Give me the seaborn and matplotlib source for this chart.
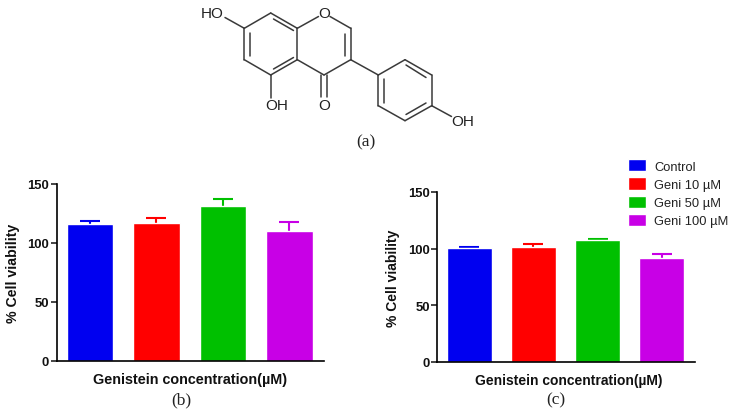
#!/usr/bin/env python3
import matplotlib
matplotlib.use("Agg")
import matplotlib.pyplot as plt
import pandas as pd
import seaborn as sns

W, H = 730, 414

GROUPS = ["Control", "Geni 10 µM", "Geni 50 µM", "Geni 100 µM"]
COLORS = ["#0000f0", "#ff0000", "#00c000", "#c800e6"]

VIABILITY_B = [116, 116.5, 131, 110]
ERR_B = [2.6, 4.7, 5.7, 7.5]
VIABILITY_C = [100.8, 101, 107.3, 91.4]
ERR_C = [0.9, 3.3, 1.4, 3.5]

YTICKS = [0, 50, 100, 150]
XLABEL = "Genistein concentration(µM)"
YLABEL = "% Cell viability"

# structure of genistein for panel (a), atom positions in pixels of the page
ATOMS = dict(
    c7=(244.3, 29.3), c8=(270.7, 14), c8a=(297.3, 29.3), c2=(350.7, 29.3),
    c3=(350.7, 60.7), c4=(324, 76), c4a=(297.3, 60.7), c5=(270.7, 76),
    c6=(244.3, 60.7), c1p=(378.3, 76), c2p=(405, 60.7), c3p=(431.7, 76),
    c4p=(431.7, 106.7), c5p=(405, 121.7), c6p=(378.3, 106.7),
)
BONDS = [
    ("c7", "c8"), ("c8", "c8a"), ("c8a", "c4a"), ("c4a", "c5"), ("c5", "c6"),
    ("c6", "c7"), ("c2", "c3"), ("c3", "c4"), ("c4", "c4a"), ("c3", "c1p"),
    ("c1p", "c2p"), ("c2p", "c3p"), ("c3p", "c4p"), ("c4p", "c5p"),
    ("c5p", "c6p"), ("c6p", "c1p"),
]
EXTRA_LINES = [
    # bonds to the O/OH labels
    ((297.3, 29.3), (318.5, 17.5)), ((330, 17.5), (350.7, 29.3)),
    ((244.3, 29.3), (225, 18.5)), ((270.7, 76), (270.7, 98.5)),
    ((431.7, 106.7), (451.5, 117.5)),
    ((321, 76), (321, 98)), ((326.8, 76), (326.8, 98)),
    # inner lines of double bonds
    ((250, 33.5), (250, 56.5)), ((273.5, 20), (293.5, 31.5)),
    ((293.5, 58.5), (273.5, 70)), ((345, 35), (345, 56.5)),
    ((384, 80), (384, 103.5)), ((406, 66), (426, 78.5)),
    ((426, 104), (406, 115.5)),
]
ATOM_LABELS = [("HO", 212, 14), ("O", 324, 14), ("OH", 277, 106),
               ("O", 324, 106), ("OH", 463, 122)]
CAPTIONS = [("(a)", 365.5, 142.5), ("(b)", 181, 400.5), ("(c)", 555.7, 400.5)]

SANS = ["Liberation Sans", "DejaVu Sans"]
SERIF = ["Liberation Serif", "DejaVu Serif"]

sns.set_theme(style="ticks")
plt.rcParams["font.family"] = SANS


def add_panel(fig, box, values, errs, xl_size, yl_size, xl_x, yl_pad, legend=False):
    left, right, bottom, top = box
    ax = fig.add_axes([left / W, 1 - bottom / H, (right - left) / W, (bottom - top) / H])
    df = pd.DataFrame({"group": GROUPS, "viability": values})
    sns.barplot(data=df, x="group", y="viability", hue="group", order=GROUPS,
                hue_order=GROUPS, palette=COLORS, width=0.7, dodge=False,
                saturation=1, errorbar=None, legend=legend, ax=ax)
    for i, (v, e) in enumerate(zip(values, errs)):
        _, caps, _ = ax.errorbar(i, v, yerr=[[0], [e]], color=COLORS[i], elinewidth=1.5,
                                 capsize=7.5, capthick=1.5, zorder=0.5)
        caps[0].set_visible(False)
    ax.set_xlim(-0.5, 3.52)
    ax.set_ylim(0, 150)
    ax.set_yticks(YTICKS)
    ax.set_xticks([])
    ax.set_xlabel(XLABEL, fontsize=xl_size, fontweight="bold", labelpad=8, color="#111111")
    ax.xaxis.label.set_x(xl_x)
    ax.set_ylabel(YLABEL, fontsize=yl_size, fontweight="bold", labelpad=yl_pad, color="#111111")
    ax.tick_params(axis="y", length=4, width=1.2, labelsize=9.4, pad=1.5, labelcolor="#111111")
    for lab in ax.get_yticklabels():
        lab.set_fontweight("bold")
    sns.despine(ax=ax)
    for s in ["left", "bottom"]:
        ax.spines[s].set_linewidth(1.2)
        ax.spines[s].set_color("black")
    return ax


fig = plt.figure(figsize=(W / 100, H / 100), dpi=100, facecolor="white")

mol = fig.add_axes([0, 0, 1, 1], zorder=-1)
mol.set_xlim(0, W)
mol.set_ylim(H, 0)
mol.axis("off")
for a, b in BONDS:
    mol.plot(*zip(ATOMS[a], ATOMS[b]), color="#3a3a3a", lw=1.1, solid_capstyle="round")
for p, q in EXTRA_LINES:
    mol.plot(*zip(p, q), color="#3a3a3a", lw=1.1, solid_capstyle="round")
for txt, x, y in ATOM_LABELS:
    mol.text(x, y, txt, ha="center", va="center", fontsize=11, color="#222222")
for txt, x, y in CAPTIONS:
    mol.text(x, y, txt, ha="center", va="center", fontsize=12.5, family=SERIF, color="#222222")

add_panel(fig, (56.7, 324, 361.7, 184.7), VIABILITY_B, ERR_B, 10.4, 10.2, 0.5, 5)
ax_c = add_panel(fig, (437.3, 695, 362.7, 193), VIABILITY_C, ERR_C, 10, 10, 0.51, 5.5, legend=True)

sns.move_legend(ax_c, "upper left", bbox_to_anchor=(625 / W, 1 - 157.5 / H),
                bbox_transform=fig.transFigure, frameon=False, title=None,
                fontsize=9.3, handlelength=1.45, handleheight=1.1, labelspacing=0.36,
                handletextpad=0.62, borderpad=0.2, borderaxespad=0, labelcolor="#222222")

fig.savefig("out.png", dpi=100)
